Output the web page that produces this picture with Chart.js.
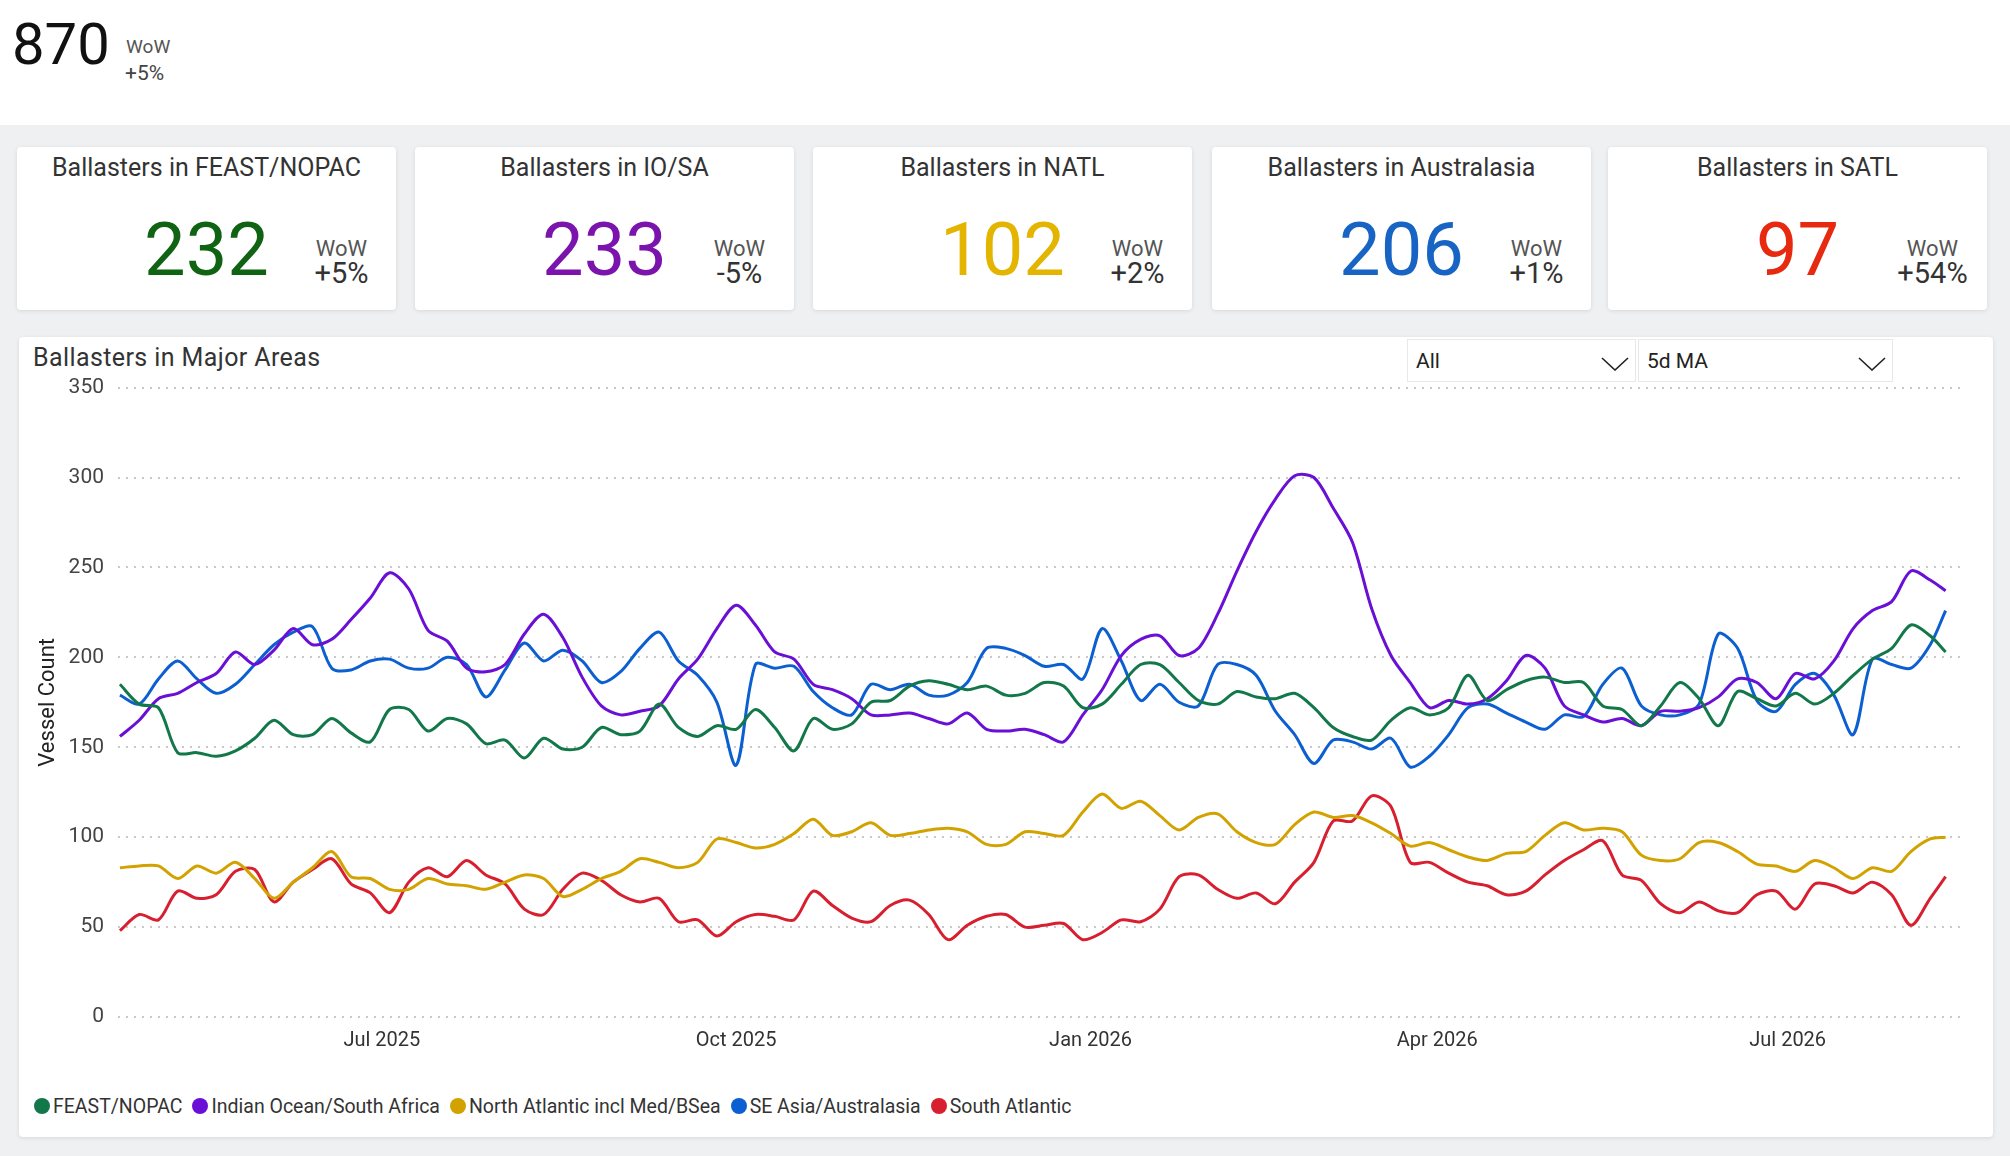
<!DOCTYPE html>
<html>
<head>
<meta charset="utf-8">
<title>Ballasters in Major Areas</title>
<script src="https://cdn.jsdelivr.net/npm/chart.js@4.4.1/dist/chart.umd.min.js"></script>
<style>
  html, body { margin: 0; padding: 0; }
  body { width: 2010px; height: 1156px; position: relative; overflow: hidden; background: #fff; font-family: Roboto, 'Open Sans', sans-serif; }
  .band { position: absolute; left: 0; top: 125px; width: 2010px; height: 1031px; background: #eff0f2; }
  .total { position: absolute; left: 12px; top: 15px; font-size: 58px; line-height: 1; color: #111; }
  .total-wow { position: absolute; left: 126px; top: 37px; font-size: 19px; line-height: 1; color: #555; }
  .total-pct { position: absolute; left: 125px; top: 63px; font-size: 21px; line-height: 1; color: #444; }
  .card { position: absolute; top: 147px; width: 379px; height: 163px; background: #fff; border-radius: 4px; box-shadow: 0 1px 4px rgba(0,0,0,0.10); }
  .card-title { position: absolute; left: 0; right: 0; top: 8px; text-align: center; font-size: 25px; line-height: 1; color: #333; }
  .card-value { position: absolute; left: 0; right: 0; top: 66px; text-align: center; font-size: 74px; line-height: 1; }
  .card-wow, .card-pct { position: absolute; left: calc(50% + 135px); transform: translateX(-50%); text-align: center; line-height: 1; white-space: nowrap; }
  .card-wow { top: 91px; font-size: 22px; color: #555; }
  .card-pct { top: 112px; font-size: 29px; color: #333; }
  .panel { position: absolute; left: 19px; top: 337px; width: 1974px; height: 800px; background: #fff; border-radius: 4px; box-shadow: 0 1px 4px rgba(0,0,0,0.10); }
  .panel-title { position: absolute; left: 33px; top: 345px; font-size: 25px; letter-spacing: 0.4px; line-height: 1; color: #333; }
  .slicer { position: absolute; top: 339px; height: 43px; background: #fff; border: 1px solid #e8e8e8; box-sizing: border-box; }
  .slicer span { position: absolute; left: 8px; top: 11px; font-size: 21px; line-height: 1; color: #222; }
  .slicer svg { position: absolute; top: 17px; }
  .chart-box { position: absolute; left: 25px; top: 361px; width: 1950px; height: 701px; }
  .legend { position: absolute; left: 34px; top: 1096px; height: 20px; display: flex; align-items: center; font-size: 19.5px; color: #333; }
  .legend-item { display: flex; align-items: center; margin-right: 10px; }
  .legend-dot { width: 16px; height: 16px; border-radius: 50%; margin-right: 3px; }
</style>
</head>
<body>
<div class="band"></div>
<div class="total" id="total"></div>
<div class="total-wow">WoW</div>
<div class="total-pct" id="totalPct"></div>
<div id="cards"></div>
<div class="panel"></div>
<div class="panel-title">Ballasters in Major Areas</div>
<div class="chart-box"><canvas id="chartAreas"></canvas></div>
<div class="slicer" style="left:1407px;width:229px"><span>All</span>
  <svg style="left:193px" width="28" height="14" viewBox="0 0 28 14"><polyline points="1,1 14,13 27,1" fill="none" stroke="#222" stroke-width="1.6"/></svg></div>
<div class="slicer" style="left:1638px;width:255px"><span>5d MA</span>
  <svg style="left:219px" width="28" height="14" viewBox="0 0 28 14"><polyline points="1,1 14,13 27,1" fill="none" stroke="#222" stroke-width="1.6"/></svg></div>
<div class="legend" id="areasLegend"></div>

<script>
/* ── DONNÉES ─────────────────────────────────────────── */

var TOTAL = 870;
var TOTAL_WOW = '+5%';

var CARD_TITLES = ['Ballasters in FEAST/NOPAC', 'Ballasters in IO/SA', 'Ballasters in NATL', 'Ballasters in Australasia', 'Ballasters in SATL'];
var CARD_VALUES = [232, 233, 102, 206, 97];
var CARD_WOW    = ['+5%', '-5%', '+2%', '+1%', '+54%'];
var CARD_COLORS = ['#0f6312', '#7a14ad', '#e3b400', '#1764c4', '#e6290f'];
var CARD_LEFT   = [17, 415, 813, 1212, 1608];

// series: one value every 5 days from 24 Apr 2025, last point 11 Aug 2026 (day 474)
var START_DATE = new Date(2025, 3, 24);
var STEP_DAYS = 5;
var LAST_DAY = 474;

var SERIES_NAMES = ['FEAST/NOPAC', 'Indian Ocean/South Africa', 'North Atlantic incl Med/BSea', 'SE Asia/Australasia', 'South Atlantic'];
var SERIES_COLORS = ['#12784a', '#6a0fd6', '#d2a300', '#0b5fd0', '#d71f2f'];

var FEAST_NOPAC = [
  185,174,172,147,147,145,148,155,165,157,
  157,166,158,153,171,171,159,166,163,152,
  154,144,155,149,150,161,157,159,174,161,
  156,162,160,171,161,148,166,160,163,175,
  176,184,187,185,182,184,179,180,186,
  184,172,174,185,196,196,186,176,174,181,
  178,177,180,172,161,156,154,165,172,168,
  172,190,176,182,187,189,186,186,173,171,
  162,173,186,177,162,181,177,173,180,174,
  180,190,199,205,218,212,
  203
];
var INDIAN_OCEAN = [
  156,165,177,180,186,191,203,196,204,216,
  207,210,221,233,247,238,215,209,194,192,
  196,213,224,211,189,173,168,170,173,188,
  199,216,229,218,203,199,185,182,177,168,
  168,169,166,163,169,160,159,160,157,
  153,168,182,201,210,212,201,205,224,248,
  270,288,301,300,283,264,227,201,186,172,
  176,174,177,187,201,194,173,168,164,166,
  162,170,170,172,178,188,186,177,191,188,
  198,216,226,231,248,243,
  237
];
var NORTH_ATLANTIC = [
  83,84,84,77,84,80,86,77,66,75,
  83,92,78,77,71,71,77,74,73,71,
  75,79,77,67,71,77,81,88,86,83,
  86,99,97,94,96,102,110,101,103,108,
  101,102,104,105,103,96,96,103,102,
  101,114,124,116,120,112,104,111,113,103,
  97,96,107,114,111,112,108,102,95,97,
  93,89,87,91,92,101,108,104,105,103,
  90,87,88,97,97,92,85,84,81,87,
  83,77,83,81,92,99,
  100
];
var SE_ASIA = [
  179,174,188,198,188,180,185,196,207,214,
  217,194,193,198,199,194,194,200,196,178,
  193,208,198,204,198,186,192,205,214,198,
  190,175,140,196,194,195,181,172,168,185,
  182,185,179,179,186,205,205,201,195,
  196,188,216,198,176,185,175,173,196,196,
  190,170,157,141,154,153,149,155,139,145,
  157,172,174,169,164,160,168,167,185,194,
  173,168,168,174,213,205,176,170,185,191,
  179,157,199,196,194,207,
  226
];
var SOUTH_ATLANTIC = [
  48,57,54,70,66,68,81,82,64,75,
  82,88,74,69,58,75,83,78,87,79,
  74,60,57,71,80,76,68,64,66,53,
  54,45,53,57,56,54,70,62,55,53,
  62,65,57,43,51,56,57,50,51,
  52,43,47,54,53,60,78,79,71,66,
  69,63,75,86,109,109,123,117,86,86,
  80,75,73,68,70,79,87,93,98,79,
  76,63,58,64,59,58,68,70,60,74,
  73,69,75,68,51,66,
  78
];

// ticks: day offsets of 1 Jul 2025, 1 Oct 2025, 1 Jan 2026, 1 Apr 2026, 1 Jul 2026
var TICK_DAYS   = [68, 160, 252, 342, 433];
var TICK_LABELS = ['Jul 2025', 'Oct 2025', 'Jan 2026', 'Apr 2026', 'Jul 2026'];
var Y_MAX = 350;
var Y_STEP = 50;

/* ── KPI ─────────────────────────────────────────────── */

document.getElementById('total').textContent = TOTAL;
document.getElementById('totalPct').textContent = TOTAL_WOW;

var cardsEl = document.getElementById('cards');
CARD_TITLES.forEach(function(t, i) {
  var card = document.createElement('div');
  card.className = 'card';
  card.style.left = CARD_LEFT[i] + 'px';
  card.innerHTML = '<div class="card-title">' + t + '</div>' +
                   '<div class="card-value" style="color:' + CARD_COLORS[i] + '">' + CARD_VALUES[i] + '</div>' +
                   '<div class="card-wow">WoW</div>' +
                   '<div class="card-pct">' + CARD_WOW[i] + '</div>';
  cardsEl.appendChild(card);
});

/* ── GRAPHIQUE ───────────────────────────────────────── */

var days = [];
for (var d = 0; d < LAST_DAY; d += STEP_DAYS) days.push(d);
days.push(LAST_DAY);

var seriesValues = [FEAST_NOPAC, INDIAN_OCEAN, NORTH_ATLANTIC, SE_ASIA, SOUTH_ATLANTIC];

Chart.defaults.font.family = 'Roboto, sans-serif';

var chartAreas = new Chart(document.getElementById('chartAreas'), {
  type: 'line',
  data: {
    datasets: seriesValues.map(function(vals, s) {
      return {
        label: SERIES_NAMES[s],
        data: days.map(function(day, i) { return { x: day, y: vals[i] }; }),
        borderColor: SERIES_COLORS[s],
        backgroundColor: SERIES_COLORS[s],
        borderWidth: 3,
        tension: 0.3,
        pointRadius: 0,
        fill: false
      };
    })
  },
  options: {
    responsive: true,
    maintainAspectRatio: false,
    animation: false,
    layout: { padding: { top: 1, right: 14, left: 0, bottom: 0 } },
    plugins: {
      legend: { display: false },
      tooltip: { enabled: false }
    },
    scales: {
      x: {
        type: 'linear',
        min: -0.5,
        max: 478,
        grid: { display: false },
        border: { display: false },
        afterBuildTicks: function(scale) {
          scale.ticks = TICK_DAYS.map(function(v) { return { value: v }; });
        },
        afterFit: function(scale) { scale.height = 45; },
        ticks: {
          autoSkip: false,
          maxRotation: 0,
          padding: 4,
          color: '#333',
          font: { size: 20 },
          callback: function(v, i) { return TICK_LABELS[i]; }
        }
      },
      y: {
        min: 0,
        max: Y_MAX,
        afterFit: function(scale) { scale.width = 93; },
        ticks: { stepSize: Y_STEP, padding: 14, color: '#444', font: { size: 21 } },
        grid: { color: '#c8c8c8', lineWidth: 2, drawTicks: false },
        border: { display: false, dash: [2, 6] },
        title: { display: true, text: 'Vessel Count', color: '#222', font: { size: 22 }, padding: { top: 10, bottom: 0 } }
      }
    }
  }
});

// Légende manuelle
var legendEl = document.getElementById('areasLegend');
SERIES_NAMES.forEach(function(name, i) {
  var item = document.createElement('div');
  item.className = 'legend-item';
  item.innerHTML = '<span class="legend-dot" style="background:' + SERIES_COLORS[i] + '"></span><span>' + name + '</span>';
  legendEl.appendChild(item);
});
</script>
</body>
</html>
